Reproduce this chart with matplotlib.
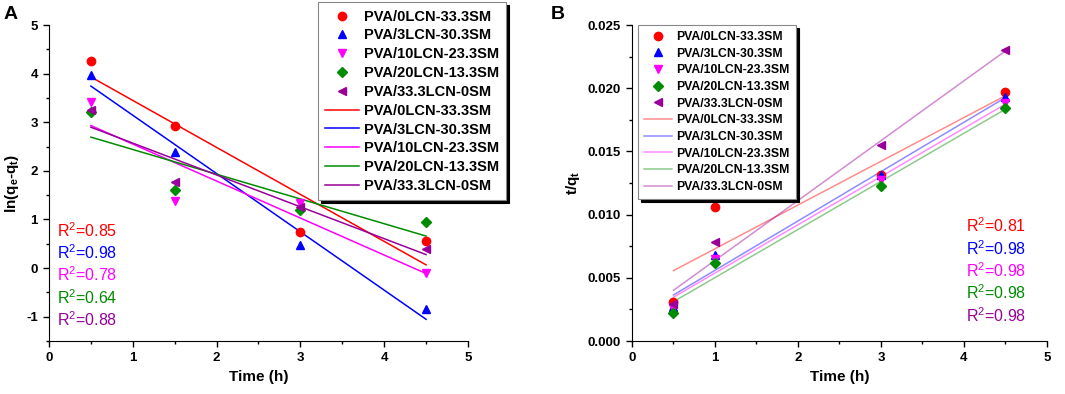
"""
Cinética de adsorción: pseudo-primer orden (A) y pseudo-segundo orden (B).
"""
import numpy as np
import matplotlib
matplotlib.use('Agg')
import matplotlib.pyplot as plt
from matplotlib.ticker import MultipleLocator

plt.rcParams['font.family'] = ['Liberation Sans', 'DejaVu Sans']
plt.rcParams['mathtext.default'] = 'regular'
plt.rcParams['axes.unicode_minus'] = False

# Datos
muestras = ['PVA/0LCN-33.3SM', 'PVA/3LCN-30.3SM', 'PVA/10LCN-23.3SM',
            'PVA/20LCN-13.3SM', 'PVA/33.3LCN-0SM']
colores = ['#ff0000', '#0000ff', '#ff00ff', '#008c00', '#990099']
marcadores = ['o', '^', 'v', 'D', '<']
tam_marc = [6, 6, 6, 5.5, 6]

tiempo_a = [0.5, 1.5, 3.0, 4.5]
ln_qe_qt = [
    [4.25, 2.93, 0.74, 0.56],
    [3.97, 2.38, 0.47, -0.84],
    [3.42, 1.37, 1.33, -0.10],
    [3.22, 1.60, 1.19, 0.95],
    [3.25, 1.78, 1.25, 0.40],
]
r2_a = ['0.85', '0.98', '0.78', '0.64', '0.88']

tiempo_b = [0.5, 1.0, 3.0, 4.5]
t_qt = [
    [0.0031, 0.0106, 0.0131, 0.0197],
    [0.0027, 0.0068, 0.0131, 0.0193],
    [0.0026, 0.0065, 0.0127, 0.0188],
    [0.0022, 0.0062, 0.0123, 0.0184],
    [0.0029, 0.0078, 0.0155, 0.0230],
]
r2_b = ['0.81', '0.98', '0.98', '0.98', '0.98']


def ajuste_lineal(x, y):
    """Recta de mínimos cuadrados evaluada en el primer y último punto."""
    m, b = np.polyfit(x, y, 1)
    xs = np.array([x[0], x[-1]])
    return xs, m * xs + b


def estilo_ejes(ax):
    for lado in ['top', 'right']:
        ax.spines[lado].set_visible(False)
    ax.tick_params(which='both', direction='out', labelsize=9.5, width=1)
    ax.tick_params(which='major', length=4.5)
    ax.tick_params(which='minor', length=2.5)
    for lbl in ax.get_xticklabels() + ax.get_yticklabels():
        lbl.set_fontweight('bold')
    ax.set_xlabel('Time (h)', fontsize=11, fontweight='bold')


def leyenda(ax, h_marc, h_lin, pos, tam, esp):
    leg = ax.legend(h_marc + h_lin, muestras + muestras,
                    loc='upper left', bbox_to_anchor=pos,
                    bbox_transform=ax.figure.transFigure, borderaxespad=0,
                    prop={'weight': 'bold', 'size': tam},
                    labelspacing=esp, handlelength=2.3, handletextpad=0.35,
                    borderpad=0.5, fancybox=False, framealpha=1,
                    edgecolor='#888888',
                    shadow={'color': 'black', 'alpha': 1})
    leg.get_frame().set_linewidth(0.8)
    return leg


fig = plt.figure(figsize=(10.65, 3.94), dpi=100)
ax_a = fig.add_axes([0.046, 0.1345, 0.3934, 0.802])
ax_b = fig.add_axes([0.5934, 0.1345, 0.3897, 0.802])

# Panel A
marc_a, lin_a = [], []
for i in range(len(muestras)):
    h, = ax_a.plot(tiempo_a, ln_qe_qt[i], linestyle='none', marker=marcadores[i],
                   color=colores[i], markersize=tam_marc[i], zorder=3)
    xs, ys = ajuste_lineal(tiempo_a, ln_qe_qt[i])
    l, = ax_a.plot(xs, ys, color=colores[i], linewidth=1.1, zorder=2)
    marc_a.append(h)
    lin_a.append(l)
    ax_a.text(0.1, 0.78 - i * 0.46, 'R$^2$=' + r2_a[i], color=colores[i],
              fontsize=11.5, va='center')

ax_a.set_xlim(0, 5)
ax_a.set_ylim(-1.5, 5)
ax_a.xaxis.set_major_locator(MultipleLocator(1))
ax_a.xaxis.set_minor_locator(MultipleLocator(0.5))
ax_a.yaxis.set_minor_locator(MultipleLocator(0.5))
ax_a.set_yticks([-1, 0, 1, 2, 3, 4, 5])
estilo_ejes(ax_a)
ax_a.set_ylabel('ln(q$_e$-q$_t$)', fontsize=11, fontweight='bold', labelpad=4)
leyenda(ax_a, marc_a, lin_a, (0.2985, 0.994), 10.5, 0.33)

# Panel B
marc_b, lin_b = [], []
for i in range(len(muestras)):
    h, = ax_b.plot(tiempo_b, t_qt[i], linestyle='none', marker=marcadores[i],
                   color=colores[i], markersize=tam_marc[i], zorder=3)
    xs, ys = ajuste_lineal(tiempo_b, t_qt[i])
    l, = ax_b.plot(xs, ys, color=colores[i], linewidth=1.1, alpha=0.45, zorder=2)
    marc_b.append(h)
    lin_b.append(l)
    ax_b.text(4.02, 0.0091 - i * 0.00177, 'R$^2$=' + r2_b[i], color=colores[i],
              fontsize=11.5, va='center')

ax_b.set_xlim(0, 5)
ax_b.set_ylim(0, 0.025)
ax_b.xaxis.set_major_locator(MultipleLocator(1))
ax_b.xaxis.set_minor_locator(MultipleLocator(0.5))
ax_b.yaxis.set_major_locator(MultipleLocator(0.005))
ax_b.yaxis.set_minor_locator(MultipleLocator(0.0025))
ax_b.yaxis.set_major_formatter(plt.FormatStrFormatter('%.3f'))
estilo_ejes(ax_b)
ax_b.set_ylabel('t/q$_t$', fontsize=11, fontweight='bold', labelpad=4)
leyenda(ax_b, marc_b, lin_b, (0.599, 0.9365), 8.8, 0.38)

fig.text(0.003, 0.985, 'A', fontsize=14, fontweight='bold', va='top')
fig.text(0.517, 0.985, 'B', fontsize=14, fontweight='bold', va='top')

fig.savefig('out.png', dpi=100)
